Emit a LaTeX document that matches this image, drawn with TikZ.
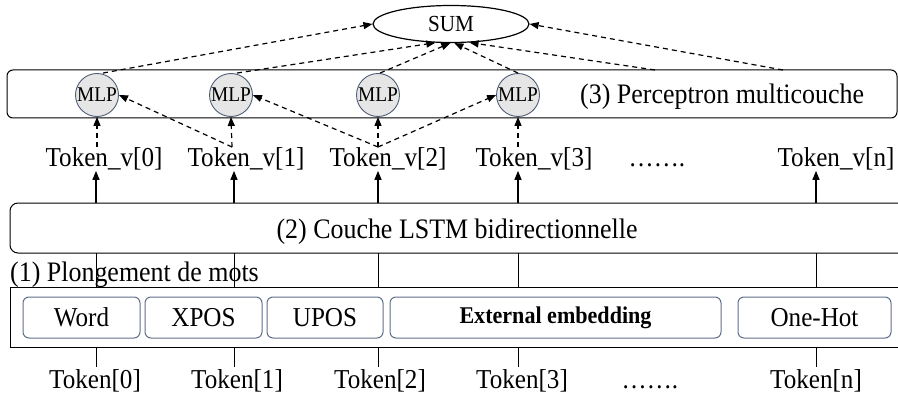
\documentclass[tikz,border=0pt]{standalone}
\usepackage{fontspec}
\setmainfont[FakeStretch=0.92]{Liberation Serif}
\usetikzlibrary{arrows.meta,shapes.geometric,calc}
\begin{document}
\begin{tikzpicture}[x=1pt,y=-1pt,
  txt/.style={inner sep=2pt,font=\fontsize{27.3}{30}\selectfont},
  lbl/.style={inner sep=0pt,anchor=base west,font=\fontsize{28.2}{30}\selectfont},
  mlp/.style={circle,draw=mlpborder,fill=mlpfill,line width=0.9pt,minimum size=43pt,inner sep=0pt,font=\fontsize{21}{22}\selectfont},
  embbox/.style={draw=embborder,line width=1pt,rounded corners=6pt,minimum height=41pt,inner sep=0pt,font=\fontsize{27.3}{30}\selectfont},
  dasharrow/.style={dashed,dash pattern=on 5pt off 4pt,line width=1.2pt,-{Triangle[length=9pt,width=7pt]}},
  solidarrow/.style={line width=1.2pt,-{Triangle[length=9pt,width=7pt]}},
  plain/.style={line width=1pt}]
\definecolor{mlpborder}{HTML}{4F5E78}
\definecolor{mlpfill}{HTML}{E6E6E6}
\definecolor{embborder}{HTML}{5F6F8A}
\useasboundingbox (0,0) rectangle (898,396);
\begin{scope}
\clip (0,0) rectangle (898,396);
% boxes
\draw[line width=1pt,rounded corners=6pt] (7,70) rectangle (897,118);
\node[inner sep=0pt] (mlpbox) at (452,94) [minimum width=890pt,minimum height=48pt] {};
\draw[line width=1pt,rounded corners=8pt] (10,203) rectangle (910,253);
\node[inner sep=0pt,minimum width=900pt,minimum height=50pt] (lstm) at (460,228) {};
\draw[line width=1pt] (10,287) rectangle (910,347);
\node[inner sep=0pt,minimum width=900pt,minimum height=60pt] (emb) at (460,317) {};
\end{scope}
% SUM
\node[ellipse,draw,line width=1.2pt,minimum width=156pt,minimum height=37pt,inner sep=0pt,font=\fontsize{23}{24}\selectfont] (sum) at (451,24) {SUM};
% MLP circles
\node[mlp] (mlp0) at (97,95) {MLP};
\node[mlp] (mlp1) at (231,95) {MLP};
\node[mlp] (mlp2) at (378,95) {MLP};
\node[mlp] (mlp3) at (518,95) {MLP};
\node[lbl] (perc) at (580,103) {(3) Perceptron multicouche};
% Token_v
\node[txt,anchor=base] (tv0) at (104,167) {Token\_v[0]};
\node[txt,anchor=base] (tv1) at (246,167) {Token\_v[1]};
\node[txt,anchor=base] (tv2) at (388,167) {Token\_v[2]};
\node[txt,anchor=base] (tv3) at (534,167) {Token\_v[3]};
\node[txt,anchor=base] (tvd) at (657,167) {…….};
\node[txt,anchor=base] (tvn) at (836,167) {Token\_v[n]};
% LSTM label
\node[lbl,anchor=base] (lstmlbl) at (457,238) {(2) Couche LSTM bidirectionnelle};
% embedding label
\node[lbl] (plong) at (10,281) {(1) Plongement de mots};
% inner boxes
\node[embbox,minimum width=117pt] (word) at (81.5,317.5) {Word};
\node[embbox,minimum width=117pt] (xpos) at (203.5,317.5) {XPOS};
\node[embbox,minimum width=116pt] (upos) at (325,317.5) {UPOS};
\node[embbox,minimum width=331pt,font=\fontsize{24}{26}\selectfont\bfseries] (ext) at (555.5,317.5) {External embedding};
\node[embbox,minimum width=153pt] (onehot) at (814.5,317.5) {One-Hot};
% Tokens
\node[txt,anchor=base] (t0) at (95,388) {Token[0]};
\node[txt,anchor=base] (t1) at (237,388) {Token[1]};
\node[txt,anchor=base] (t2) at (380,388) {Token[2]};
\node[txt,anchor=base] (t3) at (522,388) {Token[3]};
\node[txt,anchor=base] (td) at (650,388) {…….};
\node[txt,anchor=base] (tn) at (816,388) {Token[n]};
% columns
\coordinate (c0) at (96,0);
\coordinate (c1) at (234,0);
\coordinate (c2) at (378,0);
\coordinate (c3) at (518,0);
\coordinate (cn) at (816,0);
% token -> embedding (plain)
\foreach \c/\t in {c0/t0,c1/t1,c2/t2,c3/t3,cn/tn}{
  \draw[plain] (emb.south -| \c) -- (\c |- \t.north);
  \draw[plain] (emb.north -| \c) -- (lstm.south -| \c);
}
% LSTM -> Token_v
\foreach \c/\t in {c0/tv0,c1/tv1,c2/tv2,c3/tv3,cn/tvn}{
  \draw[solidarrow] (lstm.north -| \c) -- ($(\c |- \t.south)+(0,-2)$);
}
% Token_v -> MLP (dashed)
\coordinate (tv0top) at (97,147);
\coordinate (tv1top) at (232,147);
\coordinate (tv2top) at (378,147);
\coordinate (tv3top) at (518,147);
\draw[dasharrow] (tv0top) -- (mlp0.south);
\draw[dasharrow] (tv1top) -- (mlp1.south);
\draw[dasharrow] (tv2top) -- (mlp2.south);
\draw[dasharrow] (tv3top) -- (mlp3.south);
\draw[dasharrow] (tv1top) -- (mlp0.east);
\draw[dasharrow] (tv2top) -- (mlp1.east);
\draw[dasharrow] (tv2top) -- (mlp3.west);
% MLP -> SUM
\coordinate (b4) at (655,70);
\coordinate (b5) at (783,70);
\draw[dasharrow] ($(mlp0.north)+(6,0)$) -- (sum.west);
\draw[dasharrow] ($(mlp1.north)+(6,0)$) -- (sum.-130);
\draw[dasharrow] ($(mlp2.north)+(2,0)$) -- (sum.-92);
\draw[dasharrow] (mlp3.north) -- (sum.-80);
\draw[dasharrow] (b4) -- (sum.-45);
\draw[dasharrow] (b5) -- (sum.east);
\end{tikzpicture}
\end{document}
